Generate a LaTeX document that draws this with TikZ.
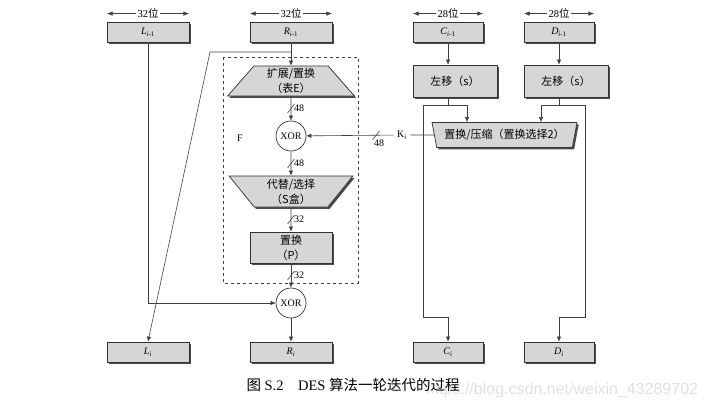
\documentclass[tikz,border=0pt]{standalone}
\usepackage{fontspec}
\setmainfont{Liberation Serif}
\newfontfamily\cjk{Noto Sans CJK SC}
\newfontfamily\wmfont{Liberation Sans}
\usetikzlibrary{arrows.meta,shapes.geometric,shadows,calc,positioning}
\tikzset{
  wire/.style={draw=black!75, line width=0.6pt},
  flow/.style={wire, -{Latex[length=5pt,width=4.5pt]}},
  dim/.style={draw=black!75, line width=0.8pt, -{Latex[length=6pt,width=4.5pt]}},
  blk/.style={draw=black!80, line width=0.7pt, fill=black!16,
    drop shadow={shadow xshift=1.8pt,shadow yshift=-1.8pt,fill=black!70,opacity=1}},
  regbox/.style={blk, minimum width=#1, minimum height=20pt, inner sep=0pt,
    font=\fontsize{10}{12}\selectfont},
  regbox/.default=82pt,
  opbox/.style={blk, minimum width=#1, inner sep=0pt, align=center,
    font=\cjk\fontsize{11}{15}\selectfont},
  trapE/.style={opbox=127pt, trapezium, trapezium stretches=true,
    trapezium left angle=56, trapezium right angle=56, minimum height=30pt},
  trapS/.style={opbox=124pt, trapezium, trapezium stretches=true, shape border rotate=180,
    trapezium left angle=57, trapezium right angle=57, minimum height=31pt},
  trapK/.style={opbox=145pt, trapezium, trapezium stretches=true, shape border rotate=180,
    trapezium left angle=70, trapezium right angle=70, minimum height=25pt},
  xorc/.style={circle, draw=black!80, line width=0.7pt, fill=white, minimum size=30pt,
    inner sep=0pt, font=\fontsize{10}{12}\selectfont},
  widthlbl/.style={inner sep=1pt, font=\fontsize{10.5}{12}\selectfont},
}
\newcommand{\regl}[2]{\textit{#1}\textsubscript{#2}}
\newcommand{\busmark}[3][right=3pt]{%
  \draw[wire] ($(#2)+(-3.5,4.5)$) -- ($(#2)+(3.5,-4.5)$);
  \node[inner sep=0pt, font=\fontsize{10}{12}\selectfont, #1] at (#2) {#3};}

\begin{document}
\begin{tikzpicture}[x=1pt,y=-1pt]
        \useasboundingbox (0,0) rectangle (707,410);

        % input halves and key halves
        \node[regbox] (Lprev) at (148,32) {\regl{L}{\textit{i}-1}};
        \node[regbox] (Rprev) at (291,32) {\regl{R}{\textit{i}-1}};
        \node[regbox=70pt] (Cprev) at (448,32) {\regl{C}{\textit{i}-1}};
        \node[regbox=70pt] (Dprev) at (559,32) {\regl{D}{\textit{i}-1}};

        % widths
        \node[widthlbl, above=2pt of Lprev] (wL) {32{\cjk 位}};
        \node[widthlbl, above=2pt of Rprev] (wR) {32{\cjk 位}};
        \node[widthlbl, above=2pt of Cprev] (wC) {28{\cjk 位}};
        \node[widthlbl, above=2pt of Dprev] (wD) {28{\cjk 位}};
        \foreach \w/\b in {wL/Lprev,wR/Rprev,wC/Cprev,wD/Dprev}{
          \draw[dim] (\w.west) -- (\w.west -| \b.west);
          \draw[dim] (\w.east) -- (\w.east -| \b.east);
        }

        % round function F
        \draw[black!75, line width=0.6pt, dashed] (223,57) rectangle (358,283);
        \node[font=\fontsize{10}{12}\selectfont] (F) at (240,138) {F};
        \node[trapE] (E) at (291,81) {扩展/置换\\（表E）};
        \node[xorc] (XOR1) at (291,136) {XOR};
        \node[trapS] (S) at (291,191.5) {代替/选择\\（S盒）};
        \node[opbox=82pt, minimum height=31pt] (P) at (291,247.5) {置换\\（P）};
        \node[xorc] (XOR2) at (291,303) {XOR};

        % key schedule
        \node[opbox=84pt, minimum height=32pt] (sC) at (455,81) {左移（s）};
        \node[opbox=84pt, minimum height=32pt] (sD) at (566,81) {左移（s）};
        \node[trapK] (PC2) at (504.5,135) {置换/压缩（置换选择2）};
        \node[font=\fontsize{10}{12}\selectfont] (Ki) at (402,135) {K\textsubscript{\itshape i}};

        % output halves
        \node[regbox] (Li) at (148,352) {\regl{L}{\textit{i}}};
        \node[regbox] (Ri) at (291,352) {\regl{R}{\textit{i}}};
        \node[regbox=70pt] (Ci) at (448,352) {\regl{C}{\textit{i}}};
        \node[regbox=70pt] (Di) at (559,352) {\regl{D}{\textit{i}}};

        % data path
        \draw[flow] (Lprev) |- (XOR2);
        \draw[flow] (Rprev) -- (E);
        \coordinate (rtap) at (291,52);
        \coordinate (rbend) at (210,52);
        \draw[flow] (rtap) -- (rbend) -- (Li.north);
        \draw[flow] (E) -- coordinate[midway] (b1) (XOR1);
        \draw[flow] (XOR1) -- coordinate[midway] (b2) (S);
        \draw[flow] (S) -- coordinate[midway] (b3) (P);
        \draw[flow] (P) -- coordinate[midway] (b4) (XOR2);
        \draw[flow] (XOR2) -- (Ri);
        \busmark{b1}{48}
        \busmark{b2}{48}
        \busmark{b3}{32}
        \busmark{b4}{32}

        % subkey into F
        \draw[wire] (PC2) -- (Ki);
        \draw[flow] (Ki) -- coordinate[pos=0.2] (b5) (XOR1);
        \busmark[below=4pt, xshift=3pt]{b5}{48}

        % C half
        \coordinate (cl) at (423,105);
        \coordinate (cr) at (467,105);
        \coordinate (cb) at (423,317);
        \draw[flow] (Cprev) -- (Cprev |- sC.north);
        \draw[wire] (Cprev |- sC.south) -- (Cprev |- cl);
        \draw[wire] (cl) -- (cr);
        \draw[flow] (cr) -- (cr |- PC2.north);
        \draw[flow] (cl) -- (cb) -| (Ci.north);

        % D half
        \coordinate (dl) at (541,105);
        \coordinate (dr) at (585,105);
        \coordinate (db) at (585,317);
        \draw[flow] (Dprev) -- (Dprev |- sD.north);
        \draw[wire] (Dprev |- sD.south) -- (Dprev |- dl);
        \draw[wire] (dl) -- (dr);
        \draw[flow] (dl) -- (dl |- PC2.north);
        \draw[flow] (dr) -- (db) -| (Di.north);

        % caption
        \node[font=\wmfont\fontsize{16}{18}\selectfont, text=black!12] (wm) at (562,390) {https://blog.csdn.net/weixin\_43289702};
        \node[anchor=west, font=\fontsize{14.5}{16}\selectfont] (cap) at (243,385) {{\cjk 图} S.2\quad DES {\cjk 算法一轮迭代的过程}};
    \end{tikzpicture}
\end{document}
